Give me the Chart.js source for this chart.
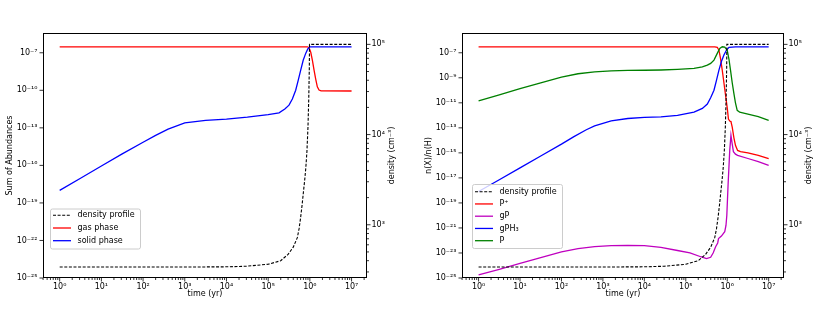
<!DOCTYPE html>
<html><head><meta charset="utf-8">
<script src="https://cdn.jsdelivr.net/npm/chart.js@4.4.0/dist/chart.umd.min.js"></script>
<style>
html,body{margin:0;padding:0;background:#fff;width:830px;height:309px;overflow:hidden}
.p{position:absolute;top:0;width:415px;height:309px}
#w1{left:0}#w2{left:415px}
</style></head><body>
<div class="p" id="w1"><canvas id="c1"></canvas></div>
<div class="p" id="w2"><canvas id="c2"></canvas></div>
<script>
// ---------- tick labels (exponents of 10) ----------
const xTickExps = [0,1,2,3,4,5,6,7];
const leftPanelYTickExps = [-25,-22,-19,-16,-13,-10,-7];
const rightPanelYTickExps = [-25,-23,-21,-19,-17,-15,-13,-11,-9,-7];
const densityTickExps = [3,4,5];

// ---------- density profile (cm^-3) ----------
const densityTime = [1,1e3,1e4,3e4,1e5,2e5,3e5,4e5,5e5,5.5e5,6e5,6.5e5,7e5,7.5e5,8e5,8.5e5,9e5,9.4e5,9.7e5,9.8e5,1e7];
const densityValues = [340,340,342,347,365,400,470,565,720,900,1200,1650,2300,3100,4300,6500,12000,25000,55000,100000,100000];

// ---------- left panel ----------
const gasTime = [1,1e5,8.7e5,9.55e5,1.05e6,1.15e6,1.26e6,1.38e6,1.51e6,1.66e6,1.86e6,1e7];
const gasPhase = [3.0e-7,3.0e-7,3.0e-7,2.5e-7,1.1e-7,2.5e-8,4.1e-9,7.9e-10,1.9e-10,1.05e-10,9.0e-11,8.8e-11];

const solidTime = [1,3.16,10,31.6,100,200,398,1e3,3162,1e4,31623,1e5,1.82e5,2.51e5,3.16e5,3.8e5,4.57e5,5.25e5,6.03e5,6.92e5,7.94e5,8.91e5,1e6,1e7];
const solidPhase = [1e-18,9.3e-18,8.9e-17,8.3e-16,7.1e-15,2.5e-14,7.9e-14,2.5e-13,4.0e-13,5.0e-13,7.1e-13,1.12e-12,1.58e-12,3.2e-12,6.5e-12,2.0e-11,1.02e-10,6.3e-10,4.1e-9,2.5e-8,8.9e-8,2.0e-7,2.95e-7,3.0e-7];

// ---------- right panel ----------
const pPlusTime = [1,5.01e5,5.75e5,6.31e5,6.92e5,7.59e5,8.32e5,9.12e5,1e6,1.07e6,1.15e6,1.23e6,1.32e6,1.45e6,1.58e6,1.78e6,2.09e6,3.16e6,5.62e6,1e7];
const pPlus = [3.0e-7,3.0e-7,2.75e-7,1.6e-7,3.2e-8,4.0e-9,4.0e-10,4.0e-11,4.0e-12,5.0e-13,3.5e-13,3.2e-13,1.12e-13,1.58e-14,4.0e-15,1.58e-15,1.26e-15,1.0e-15,6.3e-16,3.4e-16];

const gPTime = [1,3.16,10,31.6,100,251,631,1585,3981,1e4,2.51e4,6.31e4,1.26e5,2.29e5,3.16e5,3.98e5,4.57e5,5.25e5,5.89e5,6.17e5,7.24e5,8.71e5,9.33e5,9.77e5,1.05e6,1.15e6,1.23e6,1.32e6,1.41e6,1.58e6,1.78e6,3.16e6,5.62e6,1e7];
const gP = [1.74e-25,5.0e-25,1.48e-24,4.3e-24,1.2e-23,2.24e-23,3.16e-23,3.8e-23,4.0e-23,3.8e-23,2.8e-23,1.58e-23,1.0e-23,5.0e-24,3.55e-24,4.5e-24,1.0e-23,3.16e-23,6.3e-23,1.4e-22,2.24e-22,5.0e-22,1.58e-21,1.0e-20,3.16e-18,1.58e-15,2.5e-14,5.0e-15,1.26e-15,7.9e-16,6.3e-16,3.55e-16,2.0e-16,1.0e-16];

const gPH3Time = [1,3.16,10,31.6,100,200,398,631,1585,3981,1e4,2.51e4,6.31e4,1.58e5,2.51e5,3.31e5,3.98e5,4.79e5,5.5e5,6.31e5,7.24e5,8.32e5,9.55e5,1.1e6,1.58e6,1e7];
const gPH3 = [8.1e-19,7.1e-18,6.3e-17,5.6e-16,5.0e-15,2.0e-14,7.1e-14,1.41e-13,3.55e-13,5.6e-13,6.8e-13,7.4e-13,1.0e-12,1.78e-12,3.55e-12,7.9e-12,2.5e-11,1.02e-10,6.3e-10,4.1e-9,2.0e-8,6.6e-8,1.58e-7,2.7e-7,2.95e-7,2.95e-7];

const pTime = [1,3.16,10,31.6,100,251,631,1585,3981,1e4,2.51e4,6.31e4,1.58e5,2.51e5,3.31e5,3.98e5,4.79e5,5.75e5,6.61e5,7.59e5,8.71e5,1e6,1.1e6,1.2e6,1.32e6,1.45e6,1.58e6,1.74e6,2.0e6,3.16e6,5.62e6,1e7];
const pNeutral = [1.41e-11,4.4e-11,1.35e-10,4.0e-10,1.12e-9,2.1e-9,3.0e-9,3.55e-9,3.9e-9,4.0e-9,4.2e-9,4.7e-9,5.6e-9,7.4e-9,1.02e-8,1.41e-8,2.6e-8,8.9e-8,2.24e-7,3.0e-7,2.8e-7,1.58e-7,3.16e-8,4.1e-9,4.0e-10,5.5e-11,1.0e-11,2.5e-12,1.78e-12,1.26e-12,7.9e-13,4.0e-13];

// ---------- helpers ----------
const SUP = {'0':'⁰','1':'¹','2':'²','3':'³','4':'⁴','5':'⁵','6':'⁶','7':'⁷','8':'⁸','9':'⁹','-':'⁻'};
const pow10 = e => '10' + String(e).split('').map(c => SUP[c]).join('');
const pts = (t, v) => t.map((x, i) => ({x, y: v[i]}));
const FONT = {family: 'DejaVu Sans', size: 8};

function ticksFrom(majorExps, withMinor) {
  return function (scale) {
    const ticks = [];
    const lo = scale.min, hi = scale.max;
    majorExps.forEach(e => ticks.push({value: Math.pow(10, e), major: true}));
    if (withMinor) {
      const e0 = Math.floor(Math.log10(lo)), e1 = Math.ceil(Math.log10(hi));
      for (let e = e0; e <= e1; e++) for (let m = 2; m <= 9; m++) {
        const v = m * Math.pow(10, e);
        if (v >= lo && v <= hi) ticks.push({value: v, major: false});
      }
    }
    ticks.sort((a, b) => a.value - b.value);
    scale.ticks = ticks;
  };
}
const labelCb = function (value, index, ticks) {
  return ticks[index] && ticks[index].major ? pow10(Math.round(Math.log10(value))) : '';
};

const decor = {
  id: 'decor',
  afterDraw(chart, args, o) {
    const ctx = chart.ctx, a = chart.chartArea;
    ctx.save();
    // tick marks
    ctx.strokeStyle = '#000'; ctx.lineWidth = 0.8;
    ['x', 'y', 'y2'].forEach(id => {
      const s = chart.scales[id];
      s.ticks.forEach(t => {
        const p = s.getPixelForValue(t.value);
        const L = t.major ? 3.5 : 2;
        ctx.beginPath();
        if (id === 'x') { if (p < a.left - 0.5 || p > a.right + 0.5) return; ctx.moveTo(p, a.bottom); ctx.lineTo(p, a.bottom + L); }
        else if (id === 'y') { if (p < a.top - 0.5 || p > a.bottom + 0.5) return; ctx.moveTo(a.left, p); ctx.lineTo(a.left - L, p); }
        else { if (p < a.top - 0.5 || p > a.bottom + 0.5) return; ctx.moveTo(a.right, p); ctx.lineTo(a.right + L, p); }
        ctx.stroke();
      });
    });
    // frame
    ctx.lineWidth = 1; ctx.strokeStyle = '#000';
    ctx.strokeRect(Math.round(a.left) + 0.5, Math.round(a.top) + 0.5, Math.round(a.right - a.left) - 1, Math.round(a.bottom - a.top) - 1);
    // right axis title (reads bottom-to-top)
    ctx.fillStyle = '#000';
    ctx.font = '8px "DejaVu Sans"';
    ctx.textAlign = 'center'; ctx.textBaseline = 'middle';
    ctx.translate(a.right + o.rightTitleDx, (a.top + a.bottom) / 2);
    ctx.rotate(-Math.PI / 2);
    ctx.fillText(o.rightTitle, 0, 0);
    ctx.restore();
    // legend
    const lg = o.legend;
    ctx.save();
    const bx = a.left + lg.dx, by = a.top + lg.dy;
    ctx.fillStyle = 'rgba(255,255,255,0.8)';
    ctx.strokeStyle = '#cccccc'; ctx.lineWidth = 1;
    ctx.beginPath();
    if (ctx.roundRect) ctx.roundRect(bx + 0.5, by + 0.5, lg.w, lg.h, 2); else ctx.rect(bx + 0.5, by + 0.5, lg.w, lg.h);
    ctx.fill(); ctx.stroke();
    ctx.font = '8px "DejaVu Sans"'; ctx.textAlign = 'left'; ctx.textBaseline = 'middle';
    chart.data.datasets.forEach((ds, i) => {
      const yy = by + lg.first + i * lg.gap;
      ctx.strokeStyle = ds.borderColor; ctx.lineWidth = ds.borderWidth;
      ctx.setLineDash(ds.borderDash || []);
      ctx.beginPath(); ctx.moveTo(bx + 3, yy); ctx.lineTo(bx + 21, yy); ctx.stroke();
      ctx.setLineDash([]);
      ctx.fillStyle = '#000';
      ctx.fillText(ds.label, bx + 27.5, yy);
    });
    ctx.restore();
  }
};

function makeChart(id, cfg) {
  const lw = 1.3;
  const datasets = [{
    label: 'density profile', data: pts(densityTime, densityValues), yAxisID: 'y2',
    borderColor: '#000000', borderDash: [3, 1.6], borderWidth: 1.1, order: 0
  }].concat(cfg.series.map((s, i) => ({
    label: s.label, data: pts(s.t, s.v), yAxisID: 'y', borderColor: s.color, borderWidth: lw, order: 10 - i
  })));
  return new Chart(document.getElementById(id), {
    type: 'line',
    data: {datasets},
    plugins: [decor],
    options: {
      responsive: true, maintainAspectRatio: false, animation: false, events: [],
      layout: {padding: {top: 33, left: 0, right: 0, bottom: 0}},
      elements: {point: {radius: 0}, line: {tension: 0}},
      plugins: {
        legend: {display: false}, tooltip: {enabled: false},
        decor: {rightTitle: 'density (cm⁻³)', rightTitleDx: 25.3, legend: cfg.legend}
      },
      scales: {
        x: {
          type: 'logarithmic', position: 'bottom', min: Math.pow(10, -0.4), max: Math.pow(10, 7.37),
          afterBuildTicks: ticksFrom(xTickExps, true),
          afterFit: s => { s.height = 31; },
          grid: {display: false, drawTicks: false}, border: {display: false},
          ticks: {font: FONT, color: '#000', padding: 4.5, autoSkip: false, maxRotation: 0, minRotation: 0, callback: labelCb},
          title: {display: true, text: 'time (yr)', font: FONT, color: '#000', padding: {top: 0, bottom: 10.2}}
        },
        y: {
          type: 'logarithmic', position: 'left', min: 1e-25, max: Math.pow(10, -5.42),
          afterBuildTicks: ticksFrom(cfg.yTicks, false),
          afterFit: s => { s.width = cfg.leftW; },
          grid: {display: false, drawTicks: false}, border: {display: false},
          ticks: {font: FONT, color: '#000', padding: cfg.yPad, autoSkip: false, callback: labelCb},
          title: {display: true, text: cfg.yTitle, font: FONT, color: '#000', padding: {top: cfg.yTitlePad, bottom: 0}}
        },
        y2: {
          type: 'logarithmic', position: 'right', min: Math.pow(10, 2.41), max: Math.pow(10, 5.126),
          afterBuildTicks: ticksFrom(densityTickExps, true),
          afterFit: s => { s.width = cfg.rightW; },
          grid: {display: false, drawTicks: false}, border: {display: false},
          ticks: {font: FONT, color: '#000', padding: 4.5, autoSkip: false, callback: labelCb}
        }
      }
    }
  });
}

makeChart('c1', {
  yTicks: leftPanelYTickExps, yTitle: 'Sum of Abundances', leftW: 43, rightW: 48, yPad: 5.5, yTitlePad: 5.2,
  series: [
    {label: 'gas phase', t: gasTime, v: gasPhase, color: '#ff0000'},
    {label: 'solid phase', t: solidTime, v: solidPhase, color: '#0000ff'}
  ],
  legend: {dx: 7, dy: 175.5, w: 90, h: 40, first: 6.8, gap: 12.7}
});
makeChart('c2', {
  yTicks: rightPanelYTickExps, yTitle: 'n(X)/n(H)', leftW: 47, rightW: 46, yPad: 5.5, yTitlePad: 9.2,
  series: [
    {label: 'P⁺', t: pPlusTime, v: pPlus, color: '#ff0000'},
    {label: 'gP', t: gPTime, v: gP, color: '#bf00bf'},
    {label: 'gPH₃', t: gPH3Time, v: gPH3, color: '#0000ff'},
    {label: 'P', t: pTime, v: pNeutral, color: '#008000'}
  ],
  legend: {dx: 10, dy: 151, w: 90, h: 64, first: 7.7, gap: 12.25}
});
</script>
</body></html>
